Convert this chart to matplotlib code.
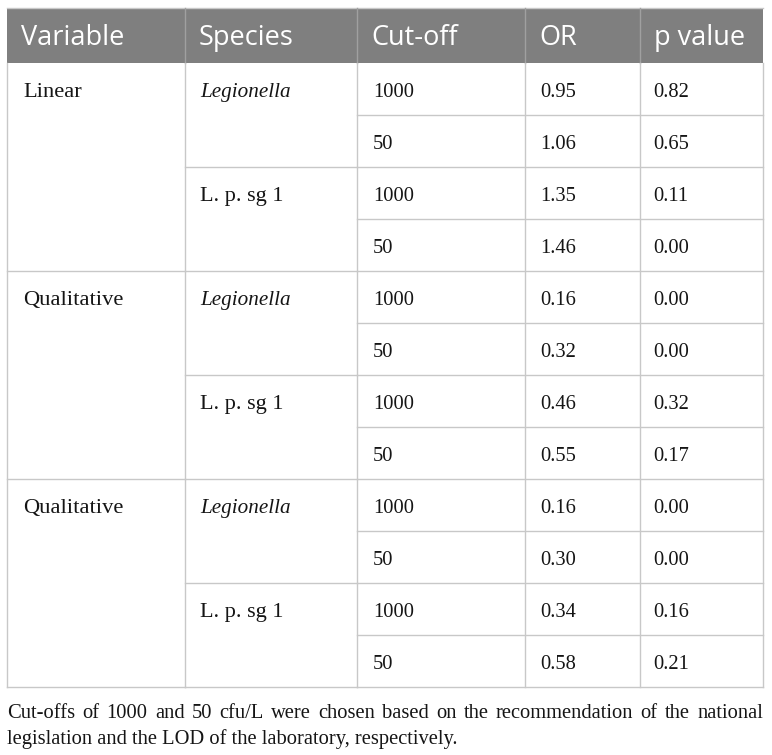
"""Odds-ratio table for Legionella cut-offs, drawn with matplotlib."""
import matplotlib
matplotlib.use("Agg")
import matplotlib.pyplot as plt

# table content
headers = ["Variable", "Species", "Cut-off", "OR", "p value"]
variables = ["Linear", "Qualitative", "Qualitative"]
species = ["Legionella", "L. p. sg 1"]
cutoffs = ["1000", "50"]
odds_ratio = [0.95, 1.06, 1.35, 1.46, 0.16, 0.32, 0.46, 0.55, 0.16, 0.30, 0.34, 0.58]
p_values = [0.82, 0.65, 0.11, 0.00, 0.00, 0.00, 0.32, 0.17, 0.00, 0.00, 0.16, 0.21]
footnote = ("Cut-offs of 1000 and 50 cfu/L were chosen based on the recommendation of the national",
            "legislation and the LOD of the laboratory, respectively.")

# layout in pixels
W, H = 772, 755
col_x = [7, 185, 357, 525, 640, 763]
top, head_h, row_h = 8, 55, 52
pad = 15
n_rows = len(odds_ratio)
body_top = top + head_h
bottom = body_top + n_rows * row_h

HEAD_BG = "#7f7f7f"
HEAD_SEP = "#a0a0a0"
LINE = "#c8c8c8"
INK = "#151515"
SERIF = "Liberation Serif"
SANS = "Open Sans"
NUM_SIZE = 14.8

fig = plt.figure(figsize=(W / 100, H / 100), dpi=100)
ax = fig.add_axes([0, 0, 1, 1])
ax.set_xlim(0, W)
ax.set_ylim(H, 0)
ax.axis("off")

# header
ax.add_patch(plt.Rectangle((col_x[0], top), col_x[-1] - col_x[0], head_h,
                           facecolor=HEAD_BG, edgecolor="none"))
ax.plot([col_x[0], col_x[-1]], [top, top], color=LINE, lw=1)
for x in col_x[1:-1]:
    ax.plot([x, x], [top, body_top], color=HEAD_SEP, lw=1)
for x, label in zip(col_x, headers):
    ax.text(x + pad - 1, top + 37, label, color="white", fontsize=19.5,
            family=SANS, va="baseline", ha="left")

# outer verticals and column separators in the body
for x in col_x:
    ax.plot([x, x], [body_top, bottom], color=LINE, lw=1)

# horizontal lines: every row in the right columns, every 2 rows for species, every 4 for variable
for i in range(1, n_rows + 1):
    y = body_top + i * row_h
    ax.plot([col_x[2], col_x[-1]], [y, y], color=LINE, lw=1)
    if i % 2 == 0:
        ax.plot([col_x[1], col_x[2]], [y, y], color=LINE, lw=1)
    if i % 4 == 0:
        ax.plot([col_x[0], col_x[1]], [y, y], color=LINE, lw=1)

base = 34  # baseline offset from row top
for i in range(n_rows):
    y = body_top + i * row_h + base
    if i % 4 == 0:
        ax.text(col_x[0] + pad + 1, y, variables[i // 4], fontsize=16.2, family=SERIF,
                va="baseline", color=INK)
    if i % 2 == 0:
        sp = species[(i // 2) % 2]
        italic = sp == "Legionella"
        ax.text(col_x[1] + pad, y, sp, fontsize=15.2 if italic else 16,
                family=SERIF, style="italic" if italic else "normal",
                va="baseline", color=INK)
    ax.text(col_x[2] + pad + 1, y, cutoffs[i % 2], fontsize=NUM_SIZE, family=SERIF,
            va="baseline", color=INK)
    ax.text(col_x[3] + pad, y, f"{odds_ratio[i]:.2f}", fontsize=NUM_SIZE, family=SERIF,
            va="baseline", color=INK)
    ax.text(col_x[4] + pad - 2, y, f"{p_values[i]:.2f}", fontsize=NUM_SIZE, family=SERIF,
            va="baseline", color=INK)

# footnote, first line justified to the table width
renderer = fig.canvas.get_renderer()
px_per_unit = fig.bbox.width / W
FOOT_SIZE = 14.8


def word_width(word):
    t = ax.text(0, 0, word, fontsize=FOOT_SIZE, family=SERIF)
    w = t.get_window_extent(renderer).width / px_per_unit
    t.remove()
    return w


foot_y = [bottom + 31, bottom + 57]
words = footnote[0].split()
widths = [word_width(w) for w in words]
gap = (col_x[-1] - col_x[0] - sum(widths)) / (len(words) - 1)
x = col_x[0]
for w, wd in zip(words, widths):
    ax.text(x, foot_y[0], w, fontsize=FOOT_SIZE, family=SERIF, va="baseline", color=INK)
    x += wd + gap
ax.text(col_x[0], foot_y[1], footnote[1], fontsize=FOOT_SIZE, family=SERIF,
        va="baseline", color=INK)

fig.savefig("out.png", dpi=100)
